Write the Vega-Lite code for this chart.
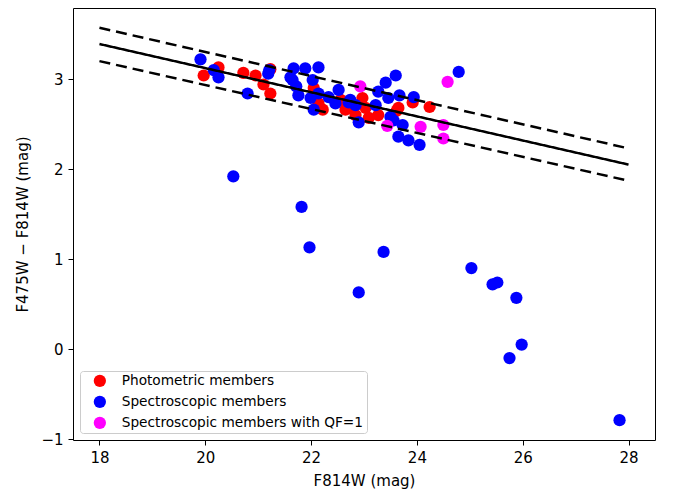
{
  "$schema": "https://vega.github.io/schema/vega-lite/v6.json",
  "autosize": "none",
  "width": 582,
  "height": 432,
  "padding": {"left": 73, "top": 8, "right": 18, "bottom": 53},
  "background": "white",
  "config": {
    "font": "DejaVu Sans",
    "view": {"stroke": "black", "strokeWidth": 1},
    "axis": {
      "grid": false,
      "domain": false,
      "tickColor": "black",
      "tickSize": 5,
      "labelPadding": 5,
      "labelColor": "black",
      "titleColor": "black",
      "labelFontSize": 15,
      "titleFontSize": 15,
      "titleFontWeight": "normal",
      "labelFont": "DejaVu Sans",
      "titleFont": "DejaVu Sans"
    }
  },
  "datasets": {
    "pts": [
      {"f814w": 19.97, "color": 3.04, "group": "Photometric members"},
      {"f814w": 20.25, "color": 3.13, "group": "Photometric members"},
      {"f814w": 20.72, "color": 3.07, "group": "Photometric members"},
      {"f814w": 20.95, "color": 3.04, "group": "Photometric members"},
      {"f814w": 21.10, "color": 2.94, "group": "Photometric members"},
      {"f814w": 21.23, "color": 3.11, "group": "Photometric members"},
      {"f814w": 21.23, "color": 2.84, "group": "Photometric members"},
      {"f814w": 22.05, "color": 2.90, "group": "Photometric members"},
      {"f814w": 22.14, "color": 2.73, "group": "Photometric members"},
      {"f814w": 22.22, "color": 2.66, "group": "Photometric members"},
      {"f814w": 22.56, "color": 2.77, "group": "Photometric members"},
      {"f814w": 22.65, "color": 2.66, "group": "Photometric members"},
      {"f814w": 22.71, "color": 2.68, "group": "Photometric members"},
      {"f814w": 22.84, "color": 2.60, "group": "Photometric members"},
      {"f814w": 22.97, "color": 2.79, "group": "Photometric members"},
      {"f814w": 23.03, "color": 2.68, "group": "Photometric members"},
      {"f814w": 23.09, "color": 2.57, "group": "Photometric members"},
      {"f814w": 23.27, "color": 2.60, "group": "Photometric members"},
      {"f814w": 23.65, "color": 2.68, "group": "Photometric members"},
      {"f814w": 23.62, "color": 2.65, "group": "Photometric members"},
      {"f814w": 23.92, "color": 2.74, "group": "Photometric members"},
      {"f814w": 24.24, "color": 2.69, "group": "Photometric members"},
      {"f814w": 19.91, "color": 3.22, "group": "Spectroscopic members"},
      {"f814w": 20.16, "color": 3.10, "group": "Spectroscopic members"},
      {"f814w": 20.25, "color": 3.02, "group": "Spectroscopic members"},
      {"f814w": 20.80, "color": 2.84, "group": "Spectroscopic members"},
      {"f814w": 21.19, "color": 3.06, "group": "Spectroscopic members"},
      {"f814w": 21.21, "color": 3.10, "group": "Spectroscopic members"},
      {"f814w": 21.61, "color": 3.02, "group": "Spectroscopic members"},
      {"f814w": 21.67, "color": 3.12, "group": "Spectroscopic members"},
      {"f814w": 21.89, "color": 3.12, "group": "Spectroscopic members"},
      {"f814w": 22.14, "color": 3.13, "group": "Spectroscopic members"},
      {"f814w": 21.65, "color": 2.99, "group": "Spectroscopic members"},
      {"f814w": 22.03, "color": 2.99, "group": "Spectroscopic members"},
      {"f814w": 21.72, "color": 2.92, "group": "Spectroscopic members"},
      {"f814w": 21.76, "color": 2.82, "group": "Spectroscopic members"},
      {"f814w": 21.99, "color": 2.79, "group": "Spectroscopic members"},
      {"f814w": 22.14, "color": 2.84, "group": "Spectroscopic members"},
      {"f814w": 22.33, "color": 2.80, "group": "Spectroscopic members"},
      {"f814w": 22.52, "color": 2.88, "group": "Spectroscopic members"},
      {"f814w": 22.05, "color": 2.66, "group": "Spectroscopic members"},
      {"f814w": 22.46, "color": 2.73, "group": "Spectroscopic members"},
      {"f814w": 22.74, "color": 2.77, "group": "Spectroscopic members"},
      {"f814w": 22.71, "color": 2.74, "group": "Spectroscopic members"},
      {"f814w": 22.84, "color": 2.71, "group": "Spectroscopic members"},
      {"f814w": 23.22, "color": 2.71, "group": "Spectroscopic members"},
      {"f814w": 23.27, "color": 2.86, "group": "Spectroscopic members"},
      {"f814w": 23.41, "color": 2.96, "group": "Spectroscopic members"},
      {"f814w": 23.46, "color": 2.79, "group": "Spectroscopic members"},
      {"f814w": 23.60, "color": 3.04, "group": "Spectroscopic members"},
      {"f814w": 23.67, "color": 2.82, "group": "Spectroscopic members"},
      {"f814w": 23.94, "color": 2.80, "group": "Spectroscopic members"},
      {"f814w": 22.90, "color": 2.52, "group": "Spectroscopic members"},
      {"f814w": 23.50, "color": 2.58, "group": "Spectroscopic members"},
      {"f814w": 23.56, "color": 2.54, "group": "Spectroscopic members"},
      {"f814w": 23.73, "color": 2.49, "group": "Spectroscopic members"},
      {"f814w": 23.65, "color": 2.36, "group": "Spectroscopic members"},
      {"f814w": 23.84, "color": 2.32, "group": "Spectroscopic members"},
      {"f814w": 24.05, "color": 2.27, "group": "Spectroscopic members"},
      {"f814w": 24.79, "color": 3.08, "group": "Spectroscopic members"},
      {"f814w": 20.53, "color": 1.92, "group": "Spectroscopic members"},
      {"f814w": 21.82, "color": 1.58, "group": "Spectroscopic members"},
      {"f814w": 21.97, "color": 1.13, "group": "Spectroscopic members"},
      {"f814w": 22.90, "color": 0.63, "group": "Spectroscopic members"},
      {"f814w": 23.37, "color": 1.08, "group": "Spectroscopic members"},
      {"f814w": 25.03, "color": 0.90, "group": "Spectroscopic members"},
      {"f814w": 25.43, "color": 0.72, "group": "Spectroscopic members"},
      {"f814w": 25.52, "color": 0.74, "group": "Spectroscopic members"},
      {"f814w": 25.88, "color": 0.57, "group": "Spectroscopic members"},
      {"f814w": 25.75, "color": -0.10, "group": "Spectroscopic members"},
      {"f814w": 25.98, "color": 0.05, "group": "Spectroscopic members"},
      {"f814w": 27.83, "color": -0.79, "group": "Spectroscopic members"},
      {"f814w": 24.58, "color": 2.97, "group": "Spectroscopic members with QF=1"},
      {"f814w": 22.93, "color": 2.92, "group": "Spectroscopic members with QF=1"},
      {"f814w": 23.44, "color": 2.48, "group": "Spectroscopic members with QF=1"},
      {"f814w": 24.07, "color": 2.47, "group": "Spectroscopic members with QF=1"},
      {"f814w": 24.50, "color": 2.49, "group": "Spectroscopic members with QF=1"},
      {"f814w": 24.50, "color": 2.34, "group": "Spectroscopic members with QF=1"}
    ],
    "fit": [
      {"f814w": 18, "color": 3.39, "line": "fit"},
      {"f814w": 28, "color": 2.05, "line": "fit"},
      {"f814w": 18, "color": 3.57, "line": "upper"},
      {"f814w": 28, "color": 2.23, "line": "upper"},
      {"f814w": 18, "color": 3.20, "line": "lower"},
      {"f814w": 28, "color": 1.87, "line": "lower"}
    ]
  },
  "layer": [
    {
      "data": {"name": "pts"},
      "mark": {"type": "point", "shape": "circle", "filled": true, "opacity": 1, "size": 150},
      "encoding": {
        "x": {
          "field": "f814w", "type": "quantitative",
          "scale": {"domain": [17.5, 28.5], "nice": false, "zero": false},
          "axis": {"values": [18, 20, 22, 24, 26, 28], "title": "F814W (mag)", "titlePadding": 8}
        },
        "y": {
          "field": "color", "type": "quantitative",
          "scale": {"domain": [-1.01, 3.79], "nice": false, "zero": false},
          "axis": {
            "values": [-1, 0, 1, 2, 3],
            "labelExpr": "replace(format(datum.value, 'd'), '-', '−')",
            "title": "F475W − F814W (mag)",
            "titlePadding": 10
          }
        },
        "color": {
          "field": "group", "type": "nominal",
          "scale": {
            "domain": ["Photometric members", "Spectroscopic members", "Spectroscopic members with QF=1"],
            "range": ["#ff0000", "#0000ff", "#ff00ff"]
          },
          "legend": {
            "title": null,
            "orient": "bottom-left",
            "offset": 7,
            "symbolType": "circle",
            "symbolSize": 150,
            "symbolStrokeWidth": 0,
            "symbolOffset": 10,
            "labelFontSize": 13.7,
            "labelFont": "DejaVu Sans",
            "labelColor": "black",
            "labelLimit": 0,
            "fillColor": "white",
            "strokeColor": "#cccccc",
            "cornerRadius": 3,
            "padding": 3,
            "rowPadding": 6,
            "labelOffset": 15
          }
        },
        "order": {"field": "group", "type": "nominal"}
      }
    },
    {
      "data": {"name": "fit"},
      "mark": {"type": "line", "color": "black", "strokeWidth": 2.5},
      "encoding": {
        "x": {"field": "f814w", "type": "quantitative"},
        "y": {"field": "color", "type": "quantitative"},
        "detail": {"field": "line", "type": "nominal"},
        "strokeDash": {
          "field": "line", "type": "nominal",
          "scale": {"domain": ["fit", "upper", "lower"], "range": [[1, 0], [11, 6], [11, 6]]},
          "legend": null
        }
      }
    }
  ]
}
